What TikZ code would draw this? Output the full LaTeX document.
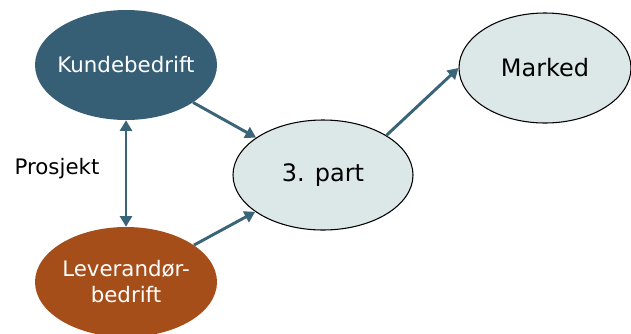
\documentclass[tikz,border=0pt]{standalone}
\usepackage{fontspec}
\setmainfont{DejaVu Sans}
\usetikzlibrary{shapes.geometric,arrows.meta}
\definecolor{kundefill}{HTML}{365F76}
\definecolor{levfill}{HTML}{A64E1A}
\definecolor{lightfill}{HTML}{DCE8E8}
\definecolor{linkcol}{HTML}{3A6579}
\tikzset{
  blob/.style={ellipse, inner ysep=0pt, inner xsep=-10pt, minimum width=136.5pt, minimum height=82.5pt, align=center},
  darkblob/.style={blob, fill=kundefill, text=white, font=\fontsize{16}{19.5}\selectfont},
  rustblob/.style={blob, fill=levfill, text=white, font=\fontsize{16}{19.5}\selectfont},
  paleblob/.style={blob, fill=lightfill, draw=black, line width=0.8pt, font=\fontsize{18}{21}\selectfont},
  link/.style={draw=linkcol, line width=2.2pt, -{Triangle[length=8pt,width=9pt]}},
  twoway/.style={draw=linkcol, line width=2.2pt, {Triangle[length=8pt,width=9pt]}-{Triangle[length=8pt,width=9pt]}}
}
\begin{document}
\begin{tikzpicture}[x=0.75pt,y=-0.75pt]
  \useasboundingbox (0,0) rectangle (631,333);
  \begin{scope}
    \clip (0,0) rectangle (631,333);
    \node[darkblob] (kunde) at (126,65) {Kundebedrift};
    \node[rustblob] (lev) at (126,282) {Leverandør-\\bedrift};
    \node[paleblob, minimum width=135pt] (part) at (323,175) {3. part};
    \node[paleblob, minimum width=129pt] (marked) at (545,68) {Marked};
  \end{scope}
  \node[font=\fontsize{16}{19.5}\selectfont] (prosjekt) at (57,169) {Prosjekt};

  \draw[twoway] (kunde.south) -- (lev.north);
  \draw[link] (kunde) -- (part);
  \draw[link] (lev) -- (part);
  \draw[link] (part.32) -- (marked.west);
\end{tikzpicture}
\end{document}
